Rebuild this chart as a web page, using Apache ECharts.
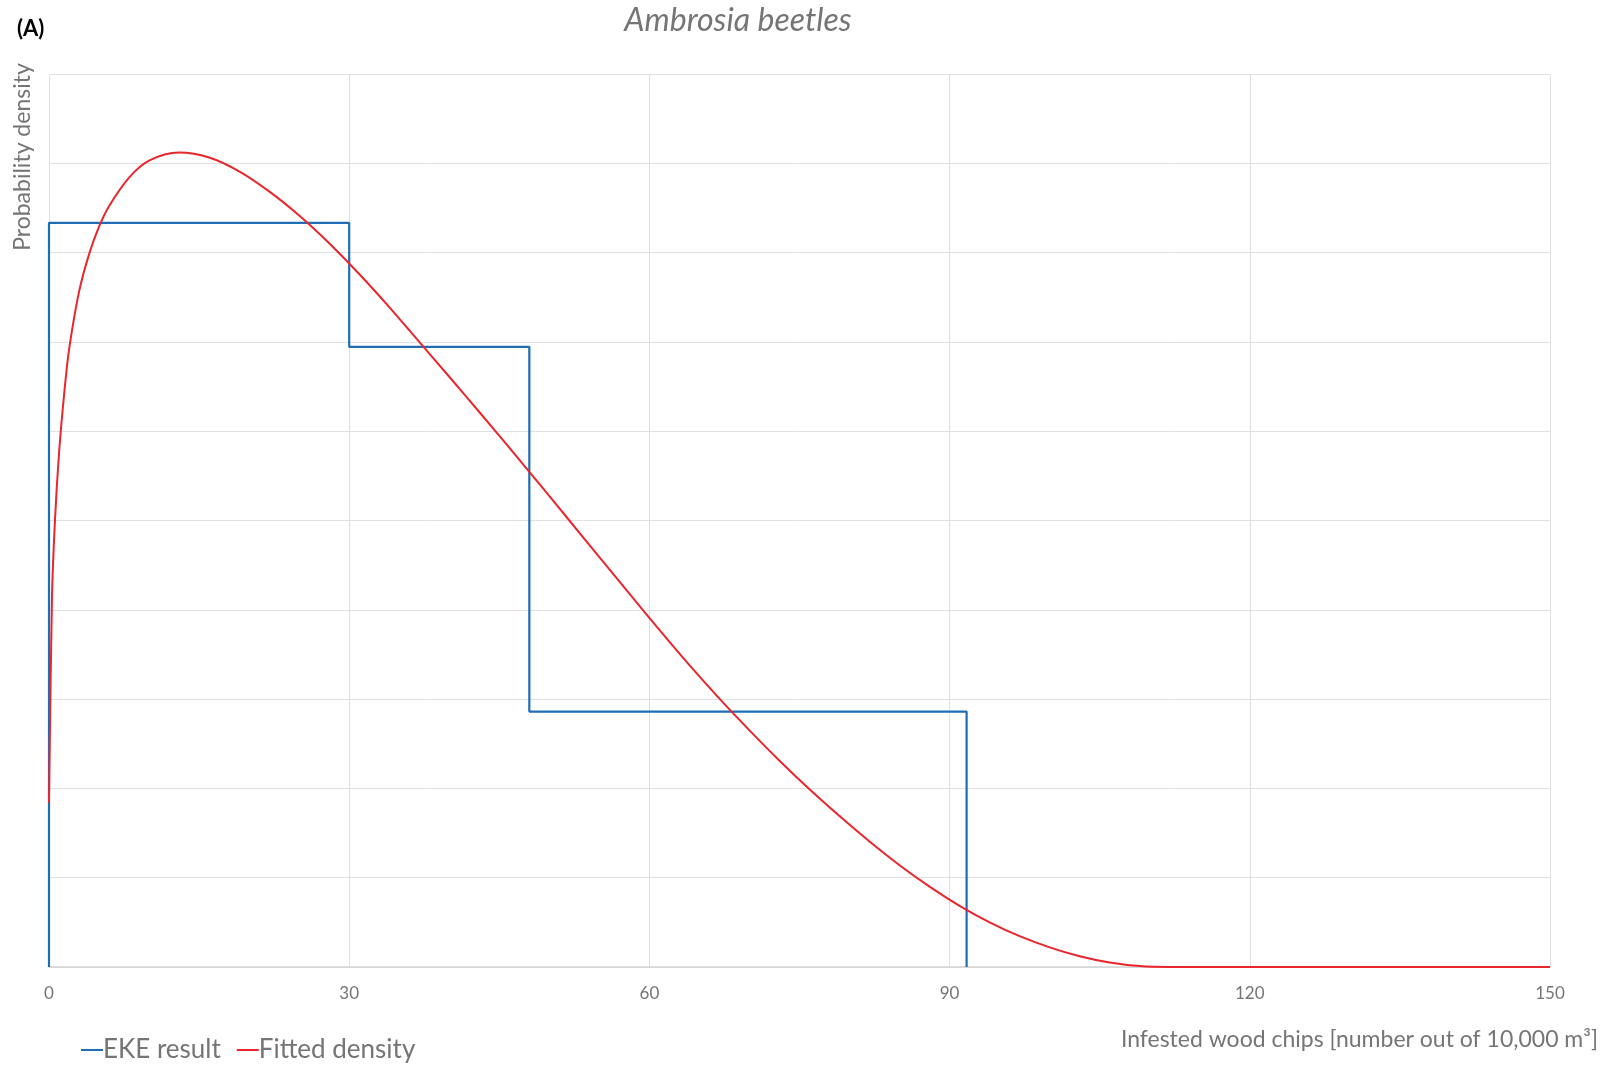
<!DOCTYPE html>
<html>
<head>
<meta charset="utf-8">
<script src="https://cdn.jsdelivr.net/npm/echarts@6/dist/echarts.min.js"></script>
<style>
html,body{margin:0;padding:0;background:#fff;}
#chart{width:1610px;height:1067px;}
</style>
</head>
<body>
<div id="chart"></div>
<script>
// ---- data ----
const xTicks = [0, 30, 60, 90, 120, 150];
// EKE result: bin edges and density heights
const binEdges = [0, 30, 48, 91.7];
const binHeights = [0.016667, 0.013889, 0.00572];
// Fitted density, y in density units
const fitX = [0, 0.3, 0.6, 1, 1.5, 2, 3, 4, 5, 6, 8, 10, 13, 16, 19, 22, 25, 28, 31, 34, 37, 40, 43, 46, 49, 52, 55, 58, 61, 64, 67, 70, 73, 76, 79, 82, 85, 88, 91, 94, 97, 100, 103, 106, 109, 112, 120, 130, 140, 150];
const fitY = [0.00368, 0.0083, 0.01002, 0.0115, 0.0128, 0.01382, 0.01512, 0.01596, 0.01658, 0.01704, 0.01768, 0.01806, 0.01824, 0.01813, 0.01782, 0.01737, 0.01683, 0.01621, 0.01552, 0.01478, 0.014, 0.01322, 0.01243, 0.01163, 0.01082, 0.01, 0.00918, 0.00836, 0.00755, 0.00676, 0.00601, 0.0053, 0.00462, 0.00398, 0.00338, 0.00281, 0.00228, 0.0018, 0.00137, 0.001, 0.00069, 0.00044, 0.00024, 0.0001, 0.00002, 0, 0, 0, 0, 0];

// build step outline for histogram
const ekeData = [[binEdges[0], 0]];
for (let i = 0; i < binHeights.length; i++) {
  ekeData.push([binEdges[i], binHeights[i]]);
  ekeData.push([binEdges[i + 1], binHeights[i]]);
}
ekeData.push([binEdges[binEdges.length - 1], 0]);
const fitData = fitX.map((x, i) => [x, fitY[i]]);

const FONT = 'Lato, "Open Sans", sans-serif';
const GRAY = '#757575';

const chart = echarts.init(document.getElementById('chart'), null, {renderer: 'canvas'});
chart.setOption({
  animation: false,
  backgroundColor: '#ffffff',
  textStyle: {fontFamily: FONT},
  title: [{
    text: 'Ambrosia beetles',
    left: 733, top: 0, textAlign: 'center',
    textStyle: {fontFamily: FONT, fontStyle: 'italic', fontWeight: 'normal', fontSize: 32, color: GRAY}
  }, {
    text: '(A)',
    left: 12, top: 13,
    textStyle: {fontFamily: FONT, fontWeight: 'bold', fontSize: 22, color: '#000'}
  }],
  legend: {
    left: 76, top: 1032,
    itemWidth: 22, itemHeight: 2, itemGap: 16,
    icon: 'rect',
    textStyle: {fontFamily: FONT, fontSize: 26, color: GRAY, padding: [0, 0, 0, -5]},
    data: ['EKE result', 'Fitted density']
  },
  grid: {left: 49, right: 60, top: 74, bottom: 100, containLabel: false},
  xAxis: {
    type: 'value', min: xTicks[0], max: xTicks[xTicks.length - 1], interval: 30,
    axisLine: {show: true, lineStyle: {color: '#d4d4d4', width: 1.5}},
    axisTick: {show: false},
    axisLabel: {color: GRAY, fontSize: 17, margin: 18, fontFamily: FONT},
    splitLine: {show: true, lineStyle: {color: '#e0e0e0', width: 1}}
  },
  yAxis: {
    type: 'value', min: 0, max: 0.02, interval: 0.002,
    axisLine: {show: false}, axisTick: {show: false}, axisLabel: {show: false},
    splitLine: {show: true, lineStyle: {color: '#e0e0e0', width: 1}}
  },
  graphic: [{
    type: 'text', x: 23, y: 157, rotation: Math.PI / 2,
    style: {text: 'Probability density', fontFamily: FONT, fontSize: 23, fill: GRAY, align: 'center', verticalAlign: 'middle'}
  }, {
    type: 'text', x: 1598, y: 1040,
    style: {text: 'Infested wood chips [number out of 10,000 m³]', fontFamily: FONT, fontSize: 23, fill: GRAY, align: 'right', verticalAlign: 'middle'}
  }],
  series: [{
    name: 'EKE result', type: 'line', data: ekeData, showSymbol: false, symbol: 'none',
    lineStyle: {color: '#1f6db5', width: 2.2}, itemStyle: {color: '#1f6db5'}
  }, {
    name: 'Fitted density', type: 'line', data: fitData, showSymbol: false, symbol: 'none',
    smooth: 0.3,
    lineStyle: {color: '#ea252c', width: 2}, itemStyle: {color: '#ea252c'}
  }]
});
</script>
</body>
</html>
